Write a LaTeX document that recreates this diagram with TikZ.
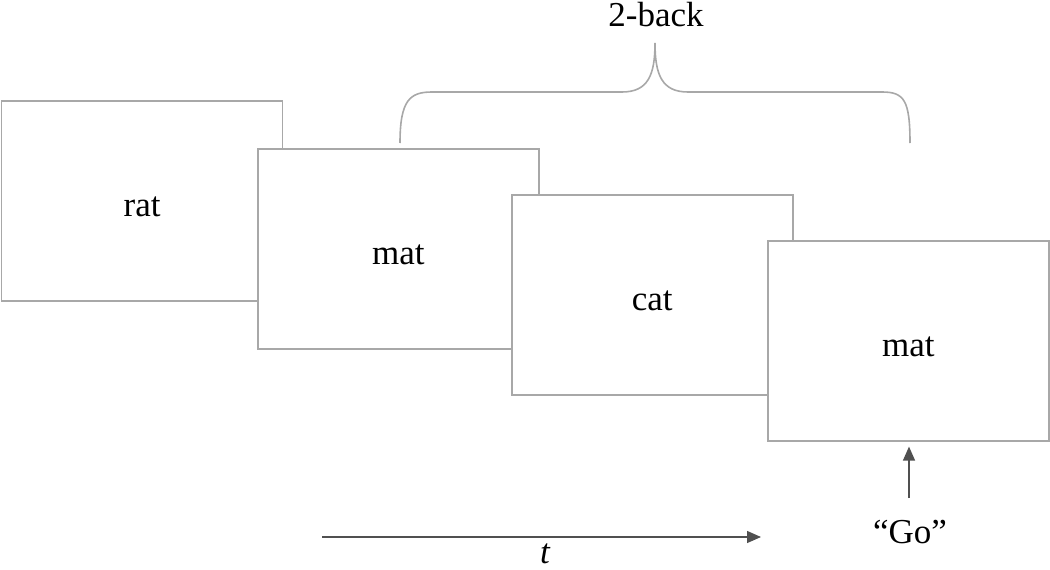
\documentclass[tikz,border=0pt]{standalone}
\usepackage{fontspec}
\setmainfont{Liberation Serif}
\usetikzlibrary{arrows.meta}
\definecolor{boxgray}{HTML}{A8A8A8}
\definecolor{arrgray}{HTML}{505050}
\begin{document}
\begin{tikzpicture}[x=1pt,y=-1pt,
  frame/.style={draw=boxgray,line width=1.6pt,fill=white,minimum width=281pt,minimum height=200pt,inner sep=0pt,anchor=north west},
  word/.style={font=\fontsize{35}{40}\selectfont,anchor=base,inner sep=0pt},
  arr/.style={draw=arrgray,line width=1.3pt,-{Triangle[length=14pt,width=12pt]}},
  bracepath/.style={draw=boxgray,line width=1.6pt}]
\useasboundingbox (0,0) rectangle (1050,570);
\node[frame] (b1) at (0.8,100) {};
\node[frame] (b2) at (257,148) {};
\node[frame] (b3) at (511,194) {};
\node[frame] (b4) at (767,240) {};
\node[word] (w1) at ([yshift=-16pt]b1.center) {rat};
\node[word] (w2) at ([yshift=-16pt]b2.center) {mat};
\node[word] (w3) at ([yshift=-16pt]b3.center) {cat};
\node[word] (w4) at ([yshift=-16pt]b4.center) {mat};
% brace
\draw[bracepath] (400,143) .. controls (400,100) and (410,92) .. (432,92) -- (622,92)
  .. controls (648,92) and (655,75) .. (655,43)
  .. controls (655,75) and (662,92) .. (688,92) -- (882,92)
  .. controls (904,92) and (910,100) .. (910,143);
\node[word] (back) at (656,27) {2-back};
% Go
\node[word] (go) at (910,543) {“Go”};
\coordinate (gostart) at (909,498);
\draw[arr,shorten >=5pt] (gostart) -- (b4.south -| gostart);
% time axis
\coordinate (t0) at (322,537);
\coordinate (t1) at (761,537);
\draw[arr] (t0) -- (t1);
\node[word,font=\fontsize{35}{40}\selectfont\itshape] (tl) at (545,563) {t};
\end{tikzpicture}
\end{document}
